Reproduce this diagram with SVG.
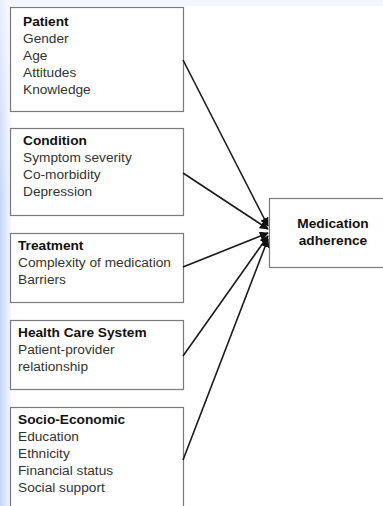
<svg xmlns="http://www.w3.org/2000/svg" width="383" height="506" viewBox="0 0 383 506">
<defs>
<linearGradient id="bgL" x1="0" y1="0" x2="1" y2="0">
<stop offset="0" stop-color="#c4d6f6"/>
<stop offset="1" stop-color="#f6f8fd"/>
</linearGradient>
<linearGradient id="bgV" x1="0" y1="0" x2="0" y2="1">
<stop offset="0" stop-color="#ffffff" stop-opacity="0.6"/>
<stop offset="1" stop-color="#ffffff" stop-opacity="0"/>
</linearGradient>
<marker id="ah" viewBox="0 0 10 10" refX="9" refY="5" markerWidth="9" markerHeight="9" markerUnits="userSpaceOnUse" orient="auto">
<path d="M0,0 L10,5 L0,10 z" fill="#111"/>
</marker>
</defs>
<style>
.box{fill:#fff;stroke:#7a7a7a;stroke-width:1.2}
.t{font-family:"Liberation Sans",Arial,sans-serif;font-size:13.7px;fill:#333}
.b{font-weight:bold;fill:#111}
.c{stroke:#1a1a1a;stroke-width:1.6;fill:none;marker-end:url(#ah)}
</style>
<rect x="0" y="0" width="383" height="506" fill="#ffffff"/>
<rect x="0" y="0" width="383" height="6" fill="#f3f6fc"/>
<rect x="0" y="0" width="11" height="506" fill="url(#bgL)"/>
<rect x="0" y="0" width="11" height="200" fill="url(#bgV)"/>

<g id="patient">
<rect class="box" x="10.5" y="7.5" width="173" height="104"/>
<text class="t b" x="23" y="26">Patient</text>
<text class="t" x="23" y="43">Gender</text>
<text class="t" x="23" y="60">Age</text>
<text class="t" x="23" y="77">Attitudes</text>
<text class="t" x="23" y="94">Knowledge</text>
</g>
<g id="condition">
<rect class="box" x="10.5" y="128.5" width="173" height="87"/>
<text class="t b" x="23" y="145">Condition</text>
<text class="t" x="23" y="162">Symptom severity</text>
<text class="t" x="23" y="179">Co-morbidity</text>
<text class="t" x="23" y="196">Depression</text>
</g>
<g id="treatment">
<rect class="box" x="10.5" y="233.5" width="173" height="69"/>
<text class="t b" x="18" y="250">Treatment</text>
<text class="t" x="18" y="267">Complexity of medication</text>
<text class="t" x="18" y="284">Barriers</text>
</g>
<g id="healthcare">
<rect class="box" x="10.5" y="320.5" width="173" height="69"/>
<text class="t b" x="18" y="337">Health Care System</text>
<text class="t" x="18" y="354">Patient-provider</text>
<text class="t" x="18" y="371">relationship</text>
</g>
<g id="socio">
<rect class="box" x="10.5" y="407.5" width="173" height="104"/>
<text class="t b" x="18" y="424">Socio-Economic</text>
<text class="t" x="18" y="441">Education</text>
<text class="t" x="18" y="458">Ethnicity</text>
<text class="t" x="18" y="475">Financial status</text>
<text class="t" x="18" y="492">Social support</text>
</g>
<g id="adherence">
<rect class="box" x="269.5" y="198.5" width="120" height="69"/>
<text class="t b" x="333" y="228" text-anchor="middle">Medication</text>
<text class="t b" x="333" y="245" text-anchor="middle">adherence</text>
</g>

<g id="connectors">
<line class="c" x1="183" y1="60" x2="268" y2="226"/>
<line class="c" x1="183" y1="173" x2="268" y2="229"/>
<line class="c" x1="183" y1="267" x2="268" y2="233"/>
<line class="c" x1="183" y1="356" x2="268" y2="236"/>
<line class="c" x1="183" y1="460" x2="268" y2="239"/>
</g>
</svg>
